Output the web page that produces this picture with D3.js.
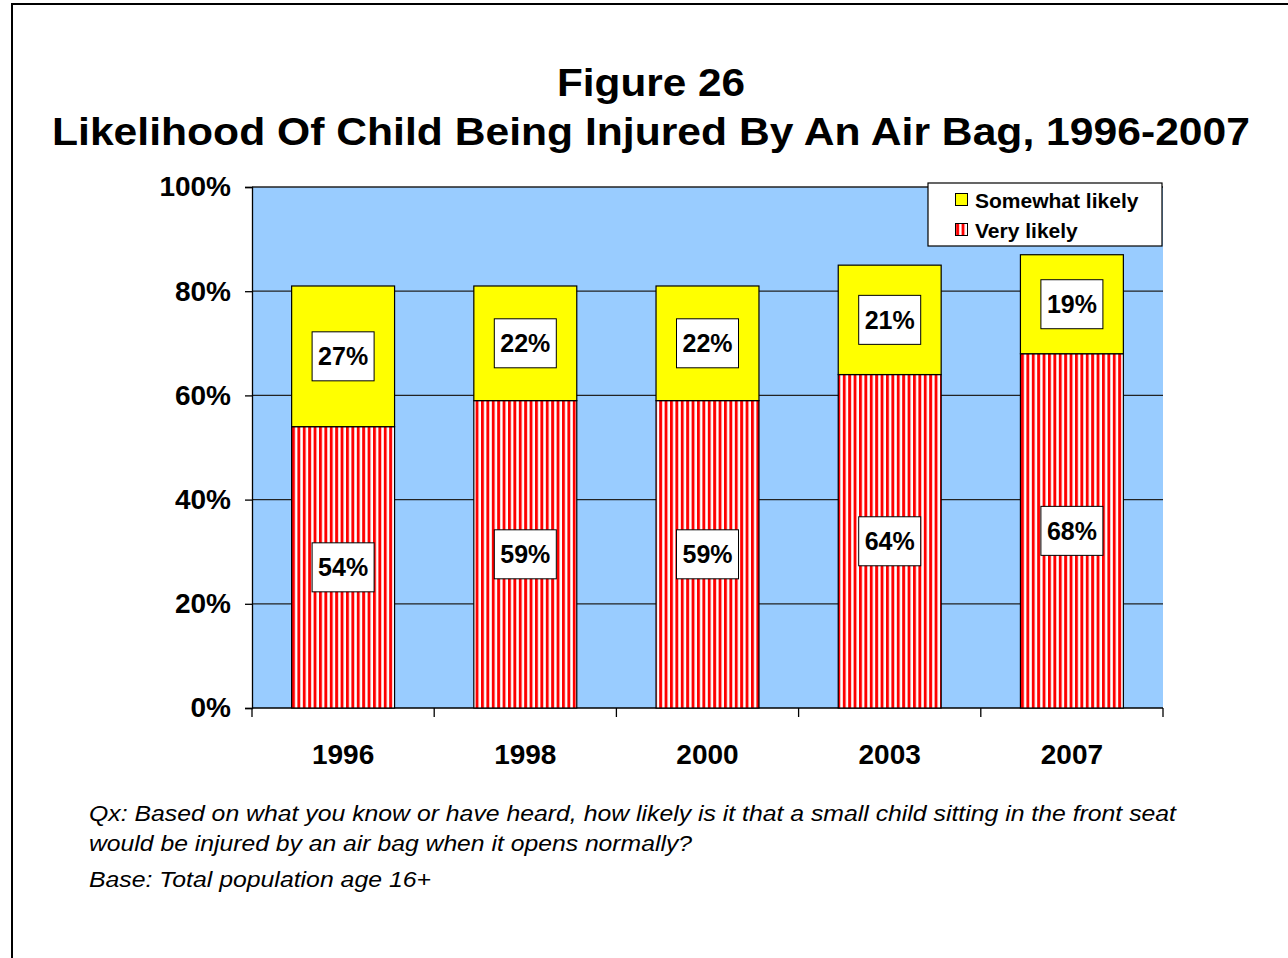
<!DOCTYPE html>
<html><head><meta charset="utf-8">
<script src="https://cdn.jsdelivr.net/npm/d3@7"></script>
<style>
html,body{margin:0;padding:0;background:#fff;}
svg text{font-family:Arial,"Liberation Sans",Helvetica,sans-serif;}
</style></head>
<body>
<script>
const years = ["1996","1998","2000","2003","2007"];
const veryLikely = [54,59,59,64,68];
const somewhatLikely = [27,22,22,21,19];
const yTicks = [0,20,40,60,80,100];
const seriesNames = ["Somewhat likely","Very likely"];
const titleLines = ["Figure 26","Likelihood Of Child Being Injured By An Air Bag, 1996-2007"];
const footLines = ["Qx: Based on what you know or have heard, how likely is it that a small child sitting in the front seat",
 "would be injured by an air bag when it opens normally?",
 "Base: Total population age 16+"];

const W=1288,H=958;
const svg=d3.select("body").append("svg").attr("width",W).attr("height",H);
const defs=svg.append("defs");
const pat=defs.append("pattern").attr("id","stripes").attr("patternUnits","userSpaceOnUse")
  .attr("width",5.4).attr("height",10).attr("x",292);
pat.append("rect").attr("width",5.4).attr("height",10).attr("fill","#fff");
pat.append("rect").attr("width",2.9).attr("height",10).attr("fill","#ff0000");

// outer frame
svg.append("rect").attr("x",12).attr("y",4).attr("width",1400).attr("height",1100)
  .attr("fill","none").attr("stroke","#000").attr("stroke-width",2);

const L=252,R=1163,T=187,B=708;
const x=d3.scaleBand().domain(years).range([L,R]).paddingInner(0.435).paddingOuter(0.2175);
const y=d3.scaleLinear().domain([0,100]).range([B,T]);

svg.append("rect").attr("x",L).attr("y",T).attr("width",R-L).attr("height",B-T).attr("fill","#99ccff");

// gridlines
svg.append("g").selectAll("line").data(yTicks.filter(d=>d>0)).join("line")
  .attr("x1",L).attr("x2",R).attr("y1",d=>y(d)).attr("y2",d=>y(d))
  .attr("stroke","#222").attr("stroke-width",1.3);

// y axis
const yAxis=d3.axisLeft(y).tickValues(yTicks).tickFormat(d=>d+"%").tickSize(7).tickPadding(14);
const gy=svg.append("g").attr("transform",`translate(${L},0)`).call(yAxis);
gy.select(".domain").attr("stroke","#000").attr("stroke-width",1.3);
gy.selectAll(".tick line").attr("stroke","#000").attr("stroke-width",1.3);
gy.selectAll("text").attr("font-size",28).attr("font-weight","bold").attr("fill","#000")
  .style("font-family","Arial, 'Liberation Sans', sans-serif");

// x axis
const xb=d3.scaleLinear().domain([0,years.length]).range([L,R]);
const gx=svg.append("g").attr("transform",`translate(0,${B})`);
gx.append("line").attr("x1",L).attr("x2",R).attr("stroke","#000").attr("stroke-width",1.3);
gx.selectAll("line.tk").data(d3.range(years.length+1)).join("line").attr("class","tk")
  .attr("x1",d=>xb(d)).attr("x2",d=>xb(d)).attr("y1",0).attr("y2",9).attr("stroke","#000").attr("stroke-width",1.3);
gx.selectAll("text").data(years).join("text")
  .attr("x",d=>x(d)+x.bandwidth()/2).attr("y",56).attr("text-anchor","middle")
  .attr("font-size",28).attr("font-weight","bold").text(d=>d);

// bars
const data=years.map((yr,i)=>({yr,v:veryLikely[i],s:somewhatLikely[i]}));
const bars=svg.append("g");
bars.selectAll("rect.v").data(data).join("rect").attr("class","v")
  .attr("x",d=>x(d.yr)).attr("width",x.bandwidth())
  .attr("y",d=>y(d.v)).attr("height",d=>y(0)-y(d.v))
  .attr("fill","url(#stripes)").attr("stroke","#000").attr("stroke-width",1.2);
bars.selectAll("rect.s").data(data).join("rect").attr("class","s")
  .attr("x",d=>x(d.yr)).attr("width",x.bandwidth())
  .attr("y",d=>y(d.v+d.s)).attr("height",d=>y(d.v)-y(d.v+d.s))
  .attr("fill","#ffff00").attr("stroke","#000").attr("stroke-width",1.2);

// labels
const labs=[];
data.forEach(d=>{labs.push({yr:d.yr,val:d.v,c:d.v/2});labs.push({yr:d.yr,val:d.s,c:d.v+d.s/2});});
const lg=svg.append("g").selectAll("g").data(labs).join("g")
  .attr("transform",d=>`translate(${x(d.yr)+x.bandwidth()/2},${y(d.c)})`);
lg.append("rect").attr("x",-31).attr("y",-24.5).attr("width",62).attr("height",49)
  .attr("fill","#fff").attr("stroke","#000").attr("stroke-width",1);
lg.append("text").attr("text-anchor","middle").attr("y",9).attr("font-size",25).attr("font-weight","bold")
  .text(d=>d.val+"%");

// legend
const leg=svg.append("g");
leg.append("rect").attr("x",928).attr("y",183).attr("width",234).attr("height",63)
  .attr("fill","#fff").attr("stroke","#000").attr("stroke-width",1.2);
const legFills=["#ffff00","url(#stripes)"];
seriesNames.forEach((n,i)=>{
  const yy=200+i*30;
  leg.append("rect").attr("x",955.5).attr("y",yy-6.5).attr("width",12).attr("height",12)
    .attr("fill",legFills[i]).attr("stroke","#000").attr("stroke-width",1);
  leg.append("text").attr("x",975).attr("y",yy+7.5).attr("font-size",21).attr("font-weight","bold").text(n);
});

// title
const titleW=[188,1198];
svg.selectAll("text.title").data(titleLines).join("text").attr("class","title")
  .attr("x",651).attr("y",(d,i)=>96+i*49).attr("text-anchor","middle")
  .attr("font-size",39).attr("font-weight","bold")
  .attr("textLength",(d,i)=>titleW[i]).attr("lengthAdjust","spacingAndGlyphs").text(d=>d);

// footer
const footW=[1087,603,342];
svg.selectAll("text.foot").data(footLines).join("text").attr("class","foot")
  .attr("x",89).attr("y",(d,i)=>[821,851,887][i]).attr("font-size",22).attr("font-style","italic")
  .attr("textLength",(d,i)=>footW[i]).attr("lengthAdjust","spacingAndGlyphs").text(d=>d);
</script>
</body></html>
